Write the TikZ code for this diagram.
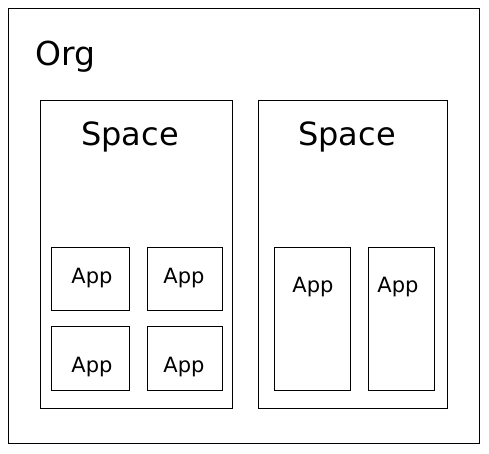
\documentclass[tikz,border=0pt]{standalone}
\usepackage{fontspec}
\setmainfont{DejaVu Sans}

\begin{document}
\begin{tikzpicture}[x=1pt,y=-1pt]
    \useasboundingbox (0,0) rectangle (489,453);
    \begin{scope}[every node/.style={rectangle,draw=black,line width=1pt,inner sep=0pt,outer sep=0pt}]
      \node[minimum width=471pt,minimum height=435pt] (org) at (243.5,225.5) {};
      \node[minimum width=192pt,minimum height=308pt] (space1) at (136,254) {};
      \node[minimum width=189pt,minimum height=308pt] (space2) at (352.5,254) {};
      \node[minimum width=78pt,minimum height=63pt] (app1) at (90,278.5) {};
      \node[minimum width=75pt,minimum height=63pt] (app2) at (184.5,278.5) {};
      \node[minimum width=78pt,minimum height=64pt] (app3) at (90,358) {};
      \node[minimum width=75pt,minimum height=64pt] (app4) at (184.5,358) {};
      \node[minimum width=76pt,minimum height=143pt] (app5) at (312,318.5) {};
      \node[minimum width=66pt,minimum height=143pt] (app6) at (401,318.5) {};
    \end{scope}

    \begin{scope}[every node/.style={anchor=base,inner sep=0pt}]
      \node[font=\fontsize{33}{36}\selectfont] (orglabel) at (65,65) {Org};
      \node[font=\fontsize{32}{36}\selectfont] (space1label) at (130,145) {Space};
      \node[font=\fontsize{32}{36}\selectfont] (space2label) at (347,145) {Space};
      \node[font=\fontsize{21}{24}\selectfont] (app1label) at (92,283) {App};
      \node[font=\fontsize{21}{24}\selectfont] (app2label) at (184,283) {App};
      \node[font=\fontsize{21}{24}\selectfont] (app3label) at (92,372) {App};
      \node[font=\fontsize{21}{24}\selectfont] (app4label) at (184,372) {App};
      \node[font=\fontsize{21}{24}\selectfont] (app5label) at (313,292) {App};
      \node[font=\fontsize{21}{24}\selectfont] (app6label) at (398,292) {App};
    \end{scope}
  \end{tikzpicture}
\end{document}
